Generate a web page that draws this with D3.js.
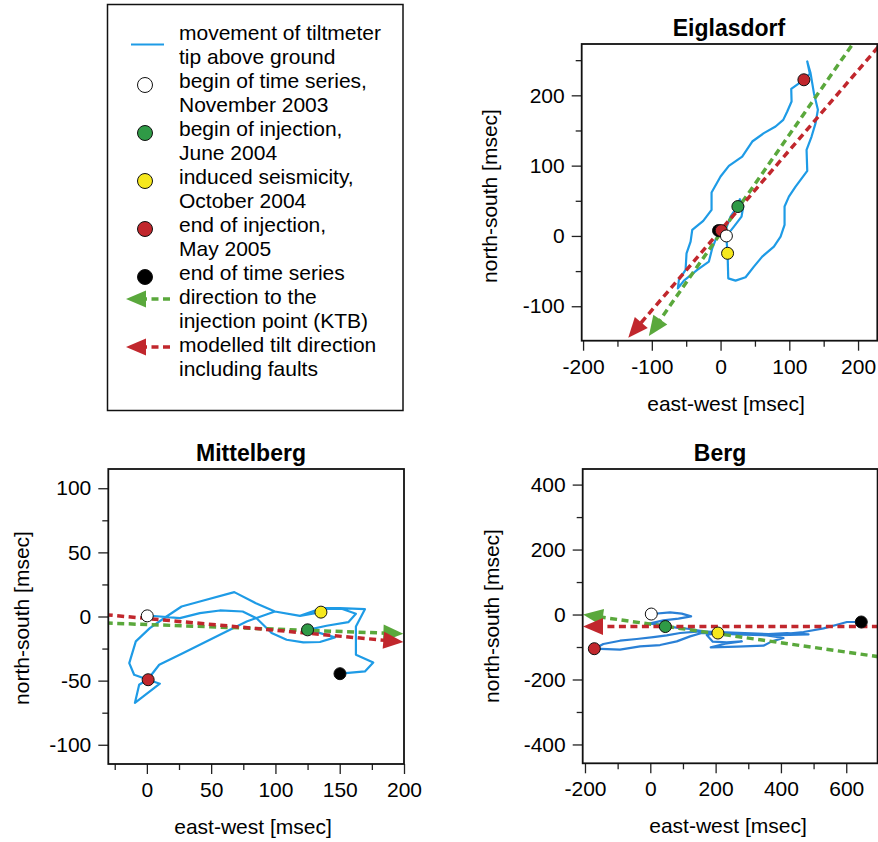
<!DOCTYPE html>
<html><head><meta charset="utf-8">
<script src="https://cdn.jsdelivr.net/npm/d3@7"></script>
<style>
body{margin:0;background:#fff}
text{font-family:"Liberation Sans",Arial,Helvetica,sans-serif;fill:#000}
</style>
</head><body>
<svg id="c" width="878" height="842"></svg>
<script>
// ---------------- DATA ----------------
// Eiglasdorf trace (east-west, north-south in msec)
const eiglasdorfEW = [8.7,19.4,30.5,33.0,28.1,24.2,14.5,7.3,8.7,10.2,11.2,21.8,36.4,48.5,60.6,77.6,87.3,93.1,93.1,99.4,109.1,126.1,125.1,132.4,138.2,141.6,135.8,130.9,126.1,129.9,121.2,102.8,103.3,97.0,91.2,80.0,63.0,46.1,31.5,12.1,0,-13.1,-13.1,-25.2,-41.2,-43.6,-49.5,-50.9,-60.6,-62.1,-53.3,-33.9,-17.0,-12.1,-7.3,0];
const eiglasdorfNS = [0,13.3,27.5,41.8,52.2,41.8,27.5,8.5,-5.7,-24.7,-60.3,-63.6,-58.8,-43.7,-29.4,-15.2,-0.9,15.7,41.8,56.0,70.2,92.5,122.4,141.4,160.4,179.4,203.1,231.6,248.2,230.6,222.1,209.3,191.2,177.0,165.1,155.6,146.2,134.3,112.9,99.6,84.5,61.7,37.0,21.4,8.5,-8.1,-24.7,-48.4,-62.6,-74.5,-63.6,-48.4,-36.5,-17.6,-5.7,7.6];
const eiglasdorfEventType = ["end","injEnd","injStart","seis","begin","injEnd"];
const eiglasdorfEventEW = [-3,1,25.2,10.2,8.5,121.2];
const eiglasdorfEventNS = [7.6,7.6,41.8,-24.7,0,222.1];
const eiglasdorfKTB = [200,284,-104.3,-142.3];      // x1,y1 -> arrow tip x2,y2
const eiglasdorfModel = [240,281,-134.3,-144.7];
const eiglasdorfXRange = [-202,228];
const eiglasdorfYRange = [-149,273];
const eiglasdorfXMajor = [-200,-100,0,100,200];
const eiglasdorfXMinor = [-150,-50,50,150];
const eiglasdorfYMajor = [-100,0,100,200];
const eiglasdorfYMinor = [-50,50,150,250];

// Mittelberg
const mittelbergEW = [0.3,25.7,41.2,56.8,74.5,85.3,90.5,97.0,108.7,121.7,134.6,146.3,129.4,125.0,139.8,156.7,162.6,151.5,139.8,135.4,119.1,99.6,84.8,68.0,41.2,27.0,15.3,2.3,-8.6,-13.7,-9.9,1.0,10.1,-9.3,-6.0,1.0,9.6,28.3,56.8,77.6,99.6,119.1,135.9,150.2,169.6,162.6,162.6,176.1,169.6,150.2];
const mittelbergNS = [0.8,-1.3,2.6,4.7,3.9,-1.3,-6.5,-12.9,-18.1,-20.2,-19.9,-16.3,-11.4,-10.4,-7.2,-4.4,2.1,6.0,6.0,3.4,0.5,3.9,10.4,19.0,11.7,7.8,0.0,-9.1,-19.4,-36.3,-45.4,-49.3,-52.4,-67.4,-53.2,-48.7,-37.6,-28.5,-14.2,-3.9,3.9,0.5,6.5,6.5,5.7,-7.8,-29.8,-35.8,-42.8,-44.6];
const mittelbergEventType = ["begin","injStart","seis","injEnd","end"];
const mittelbergEventEW = [0.3,125.0,135.4,1.0,150.2];
const mittelbergEventNS = [0.5,-10.4,3.4,-49.3,-44.6];
const mittelbergKTB = [-32,-5.1,199.5,-13.5];
const mittelbergModel = [-32,1.4,199.5,-19.9];
const mittelbergXRange = [-30,200];
const mittelbergYRange = [-115,115];
const mittelbergXMajor = [0,50,100,150,200];
const mittelbergXMinor = [-25,25,75,125,175];
const mittelbergYMajor = [-100,-50,0,50,100];
const mittelbergYMinor = [-75,-25,25,75];

// Berg
const bergEW = [4.3,60.5,96.3,124.9,86.1,40.1,-2.8,24.8,46.2,81.0,121.8,157.6,206.6,172.9,191.3,234.2,280.2,229.1,185.2,264.9,346.6,372.2,407.9,356.8,285.3,213.8,157.6,121.8,81.0,29.9,-31.4,-92.7,-171.4,-143.8,-92.7,-41.6,9.4,50.3,91.2,152.5,361.9,418.1,484.5,367.0,469.2,530.5,571.4,602.0,646.0];
const bergNS = [1.6,6.7,2.6,-5.6,-12.8,-17.9,-28.2,-30.3,-36.4,-40.5,-44.6,-50.8,-56.9,-63.1,-83.6,-85.7,-82.6,-89.8,-101.1,-99.0,-96.0,-82.6,-72.3,-64.1,-62.1,-59.0,-56.9,-67.2,-82.6,-93.9,-98.0,-108.3,-105.2,-90.8,-80.6,-75.4,-69.3,-64.1,-56.9,-51.8,-60.0,-56.9,-61.1,-64.1,-53.9,-42.6,-31.3,-23.0,-23.0];
const bergEventType = ["begin","injStart","seis","injEnd","end"];
const bergEventEW = [3,46,207,-171.4,646];
const bergEventNS = [1.5,-37,-57,-105.2,-23];
const bergKTB = [700,-130,-206,0];
const bergModel = [700,-37,-206,-37];
const bergXRange = [-207,696];
const bergYRange = [-458,448];
const bergXMajor = [-200,0,200,400,600];
const bergXMinor = [-100,100,300,500];
const bergYMajor = [-400,-200,0,200,400];
const bergYMinor = [-300,-100,100,300];

// Legend
const legendKinds = ["line","begin","injStart","seis","injEnd","end","ktb","model"];
const legendLabels = [
  ["movement of tiltmeter","tip above ground"],
  ["begin of time series,","November 2003"],
  ["begin of injection,","June 2004"],
  ["induced seismicity,","October 2004"],
  ["end of injection,","May 2005"],
  ["end of time series"],
  ["direction to the","injection point (KTB)"],
  ["modelled tilt direction","including faults"]
];
const xTitle = "east-west [msec]";
const yTitle = "north-south [msec]";

// ---------------- STYLE ----------------
const eventFill = {begin:"#ffffff", injStart:"#2f9a46", seis:"#f6e81e", injEnd:"#c1272d", end:"#000000"};
const traceBlue = "#1e9be6", bergBlue = "#2a80d6";
const redC = "#c1272d", greenC = "#5aa83c";

const svg = d3.select("#c");

function drawArrow(g, sx, sy, seg, color){
  const p1 = [sx(seg[0]), sy(seg[1])], p2 = [sx(seg[2]), sy(seg[3])];
  drawArrowPx(g, p1, p2, color);
}
function drawArrowPx(g, p1, p2, color){
  const dx = p2[0]-p1[0], dy = p2[1]-p1[1], len = Math.hypot(dx,dy);
  const ux = dx/len, uy = dy/len, L = 20, Wd = 8.5;
  const b = [p2[0]-ux*L, p2[1]-uy*L];
  g.append("line").attr("x1",p1[0]).attr("y1",p1[1]).attr("x2",b[0]+ux*2).attr("y2",b[1]+uy*2)
    .attr("stroke",color).attr("stroke-width",3.5).attr("stroke-dasharray","7,4.5");
  g.append("path").attr("d",`M${p2[0]},${p2[1]}L${b[0]-uy*Wd},${b[1]+ux*Wd}L${b[0]+uy*Wd},${b[1]-ux*Wd}Z`)
    .attr("fill",color);
}

const panels = [
  {id:"e", title:"Eiglasdorf", tx:729, ew:eiglasdorfEW, ns:eiglasdorfNS, evT:eiglasdorfEventType, evX:eiglasdorfEventEW, evY:eiglasdorfEventNS,
   ktb:eiglasdorfKTB, model:eiglasdorfModel, xr:eiglasdorfXRange, yr:eiglasdorfYRange,
   xM:eiglasdorfXMajor, xm:eiglasdorfXMinor, yM:eiglasdorfYMajor, ym:eiglasdorfYMinor,
   box:[581.7,877.3,44,340.7], color:traceBlue, yto:85, ytc:196, xtc:726},
  {id:"m", title:"Mittelberg", tx:251, ew:mittelbergEW, ns:mittelbergNS, evT:mittelbergEventType, evX:mittelbergEventEW, evY:mittelbergEventNS,
   ktb:mittelbergKTB, model:mittelbergModel, xr:mittelbergXRange, yr:mittelbergYRange,
   xM:mittelbergXMajor, xm:mittelbergXMinor, yM:mittelbergYMajor, ym:mittelbergYMinor,
   box:[108.3,404,469,764], color:traceBlue, yto:79, ytc:618, xtc:253},
  {id:"b", title:"Berg", tx:720, ew:bergEW, ns:bergNS, evT:bergEventType, evX:bergEventEW, evY:bergEventNS,
   ktb:bergKTB, model:bergModel, xr:bergXRange, yr:bergYRange,
   xM:bergXMajor, xm:bergXMinor, yM:bergYMajor, ym:bergYMinor,
   box:[582.7,877.6,469,763.3], color:bergBlue, yto:84, ytc:616, xtc:728}
];

const fmt = d => String(d);

panels.forEach(p => {
  const [l,r,t,b] = p.box;
  const sx = d3.scaleLinear().domain(p.xr).range([l,r]);
  const sy = d3.scaleLinear().domain(p.yr).range([b,t]);
  const g = svg.append("g");
  const clipId = "clip-"+p.id;
  svg.append("clipPath").attr("id",clipId).append("rect").attr("x",l).attr("y",t).attr("width",r-l).attr("height",b-t);

  // axes: major + minor
  const axX = d3.axisBottom(sx).tickValues(p.xM).tickFormat(fmt).tickSize(10).tickPadding(8).tickSizeOuter(0);
  const axXm = d3.axisBottom(sx).tickValues(p.xm).tickFormat("").tickSize(6).tickSizeOuter(0);
  const axY = d3.axisLeft(sy).tickValues(p.yM).tickFormat(fmt).tickSize(10).tickPadding(7).tickSizeOuter(0);
  const axYm = d3.axisLeft(sy).tickValues(p.ym).tickFormat("").tickSize(6).tickSizeOuter(0);
  [[axX,`translate(0,${b})`],[axXm,`translate(0,${b})`],[axY,`translate(${l},0)`],[axYm,`translate(${l},0)`]].forEach(([ax,tr])=>{
    const a = g.append("g").attr("transform",tr).call(ax);
    a.select(".domain").remove();
    a.selectAll("line").attr("stroke","#222").attr("stroke-width",1.3);
    a.selectAll("text").attr("font-size",21).attr("font-family",'"Liberation Sans",Arial,sans-serif').attr("fill","#000");
  });

  const inner = g.append("g").attr("clip-path",`url(#${clipId})`);
  // trace
  const pts = p.ew.map((x,i)=>[x,p.ns[i]]);
  inner.append("path").datum(pts)
    .attr("d", d3.line().x(d=>sx(d[0])).y(d=>sy(d[1])))
    .attr("fill","none").attr("stroke",p.color).attr("stroke-width",2.2).attr("stroke-linejoin","round");
  // arrows
  drawArrow(inner, sx, sy, p.ktb, greenC);
  drawArrow(inner, sx, sy, p.model, redC);
  // events
  inner.selectAll("circle.ev").data(p.evT).enter().append("circle")
    .attr("cx",(d,i)=>sx(p.evX[i])).attr("cy",(d,i)=>sy(p.evY[i])).attr("r",6)
    .attr("fill",d=>eventFill[d]).attr("stroke","#111").attr("stroke-width",1);

  // box
  g.append("rect").attr("x",l).attr("y",t).attr("width",r-l).attr("height",b-t)
    .attr("fill","none").attr("stroke","#111").attr("stroke-width",1.8);

  // titles
  g.append("text").attr("x",p.tx).attr("y",t-8).attr("text-anchor","middle")
    .attr("font-size",23).attr("font-weight","bold").text(p.title);
  g.append("text").attr("x",p.xtc).attr("y",b+70).attr("text-anchor","middle")
    .attr("font-size",21).text(xTitle);
  g.append("text").attr("transform",`translate(${l-p.yto},${p.ytc}) rotate(-90)`).attr("text-anchor","middle")
    .attr("font-size",21).text(yTitle);
});

// ---------------- LEGEND ----------------
const lg = svg.append("g");
lg.append("rect").attr("x",107.5).attr("y",4.5).attr("width",295.5).attr("height",406)
  .attr("fill","none").attr("stroke","#111").attr("stroke-width",1.5);
let line = 0;
legendKinds.forEach((k,i) => {
  const base = 40 + 24*line;
  legendLabels[i].forEach((s,j)=>{
    lg.append("text").attr("x",179).attr("y",base+24*j).attr("font-size",21).text(s);
  });
  if (k === "line") {
    lg.append("line").attr("x1",131).attr("x2",164).attr("y1",base+4.5).attr("y2",base+4.5)
      .attr("stroke",traceBlue).attr("stroke-width",2);
  } else if (k === "ktb" || k === "model") {
    drawArrowPx(lg, [170, base-5], [126, base-5], k==="ktb"?greenC:redC);
  } else {
    lg.append("circle").attr("cx",145).attr("cy",base-3).attr("r",7.5)
      .attr("fill",eventFill[k]).attr("stroke","#111").attr("stroke-width",1);
  }
  line += legendLabels[i].length;
});
</script>
</body></html>
